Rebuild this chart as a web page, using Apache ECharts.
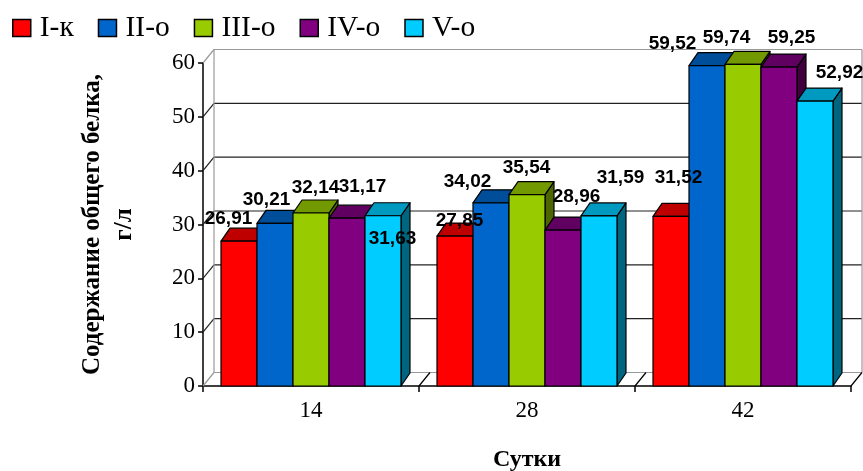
<!DOCTYPE html>
<html>
<head>
<meta charset="utf-8">
<script src="https://cdn.jsdelivr.net/npm/echarts@6/dist/echarts.min.js"></script>
<style>
  html, body { margin: 0; padding: 0; background: #fff; }
  #chart { width: 863px; height: 471px; }
</style>
</head>
<body>
<div id="chart"></div>
<script>
// Total protein by day, per group
const days = ['14', '28', '42'];
const groupNames = ['I-к', 'II-о', 'III-о', 'IV-о', 'V-о'];
const valsI = [26.91, 27.85, 31.52];
const valsII = [30.21, 34.02, 59.52];
const valsIII = [32.14, 35.54, 59.74];
const valsIV = [31.17, 28.96, 59.25];
const valsV = [31.63, 31.59, 52.92];
const yTicks = [0, 10, 20, 30, 40, 50, 60];

const groupValues = [valsI, valsII, valsIII, valsIV, valsV];

// Face colours: front, top, side
const frontColors = ['#FF0000', '#0066CC', '#99CC00', '#800080', '#00CCFF'];
const topColors = ['#BF0000', '#004D99', '#739900', '#600060', '#0099BF'];
const sideColors = ['#800000', '#003366', '#4D6600', '#400040', '#006680'];

// Value label nudges in pixels, relative to the back edge of each bar top
const labelShift = [
  [[-15, -9], [0, -2], [3, -26]],
  [[-13, -11], [-28, -8], [-39, -9]],
  [[0, -12], [-5, -14], [-21, -14]],
  [[11, -18], [9, -20], [8, -16]],
  [[5, 36], [17, -25], [20, -15]]
];

// Oblique depth of bars and walls
const BAR_DX = 9, BAR_DY = 13;
const WALL_DX = 11, WALL_DY = 13.5;

const serif = 'Liberation Serif, Times New Roman, serif';
const sans = 'Liberation Sans, Arial, sans-serif';

function barRenderer(sIdx) {
  return function (params, api) {
    const cat = api.value(0);
    const top = api.coord([cat, api.value(1)]);
    const base = api.coord([cat, 0]);
    const band = api.size([1, 0])[0];
    const w = band / 6;
    const x0 = top[0] + (sIdx - 2.5) * w;
    const x1 = x0 + w;
    const yT = top[1], yB = base[1];
    const stroke = { stroke: '#000', lineWidth: 1.2, lineJoin: 'round' };
    return {
      type: 'group',
      children: [
        {
          type: 'polygon',
          shape: { points: [[x1, yT], [x1 + BAR_DX, yT - BAR_DY], [x1 + BAR_DX, yB - BAR_DY], [x1, yB]] },
          style: Object.assign({ fill: sideColors[sIdx] }, stroke)
        },
        {
          type: 'polygon',
          shape: { points: [[x0, yT], [x1, yT], [x1 + BAR_DX, yT - BAR_DY], [x0 + BAR_DX, yT - BAR_DY]] },
          style: Object.assign({ fill: topColors[sIdx] }, stroke)
        },
        {
          type: 'rect',
          shape: { x: x0, y: yT, width: w, height: yB - yT },
          style: Object.assign({ fill: frontColors[sIdx] }, stroke)
        }
      ]
    };
  };
}

function wallRenderer(params, api) {
  const band = api.size([1, 0])[0];
  const xL = api.coord([0, 0])[0] - band / 2;
  const xR = api.coord([days.length - 1, 0])[0] + band / 2;
  const y0 = api.coord([0, 0])[1];
  const yMax = api.coord([0, yTicks[yTicks.length - 1]])[1];
  const gray = '#999';
  const dark = '#222';
  const children = [];
  const line = (x1, y1, x2, y2, color) => children.push({
    type: 'line',
    shape: { x1, y1, x2, y2 },
    style: { stroke: color, lineWidth: 1.2 }
  });
  yTicks.forEach((v, i) => {
    const y = api.coord([0, v])[1];
    const edge = i === 0 || i === yTicks.length - 1;
    const c = edge ? gray : dark;
    line(xL, y, xL + WALL_DX, y - WALL_DY, c);
    line(xL + WALL_DX, y - WALL_DY, xR + WALL_DX, y - WALL_DY, c);
  });
  // back wall vertical edges
  line(xL + WALL_DX, y0 - WALL_DY, xL + WALL_DX, yMax - WALL_DY, gray);
  line(xR + WALL_DX, y0 - WALL_DY, xR + WALL_DX, yMax - WALL_DY, gray);
  // floor lines at category boundaries
  for (let i = 1; i <= days.length; i++) {
    const xb = xL + band * i;
    line(xb, y0, xb + WALL_DX, y0 - WALL_DY, '#000');
  }
  return { type: 'group', children };
}

function labelRenderer(params, api) {
  const sIdx = api.value(0);
  const cat = api.value(1);
  const val = api.value(2);
  const top = api.coord([cat, val]);
  const band = api.size([1, 0])[0];
  const w = band / 6;
  const cx = top[0] + (sIdx - 2.5) * w + w / 2 + BAR_DX / 2;
  const cy = top[1] - BAR_DY;
  const sh = labelShift[sIdx][cat];
  return {
    type: 'text',
    style: {
      x: cx + sh[0],
      y: cy + sh[1],
      text: val.toFixed(2).replace('.', ','),
      align: 'center',
      verticalAlign: 'middle',
      fontFamily: sans,
      fontWeight: 'bold',
      fontSize: 19,
      fill: '#000'
    }
  };
}

const labelData = [];
groupValues.forEach((arr, s) => arr.forEach((v, c) => labelData.push([s, c, v])));

const series = [
  {
    type: 'custom',
    name: 'walls',
    z: 1,
    clip: false,
    silent: true,
    data: [[0, 0]],
    renderItem: wallRenderer
  }
];
groupNames.forEach((name, s) => {
  series.push({
    type: 'custom',
    name,
    z: 2,
    clip: false,
    itemStyle: { color: frontColors[s] },
    encode: { x: 0, y: 1 },
    data: groupValues[s].map((v, c) => [c, v]),
    renderItem: barRenderer(s)
  });
});
series.push({
  type: 'custom',
  name: 'labels',
  z: 5,
  clip: false,
  silent: true,
  data: labelData,
  encode: { x: 1, y: 2 },
  renderItem: labelRenderer
});

const chart = echarts.init(document.getElementById('chart'), null, { renderer: 'canvas' });
chart.setOption({
  animation: false,
  backgroundColor: '#fff',
  legend: {
    data: groupNames,
    left: 12,
    top: 13,
    padding: 0,
    itemGap: 24,
    itemWidth: 18,
    itemHeight: 17,
    icon: 'rect',
    itemStyle: { borderColor: '#000', borderWidth: 1.5 },
    textStyle: { fontFamily: serif, fontSize: 29.5, color: '#000', padding: [0, 0, 0, 4] }
  },
  grid: {
    left: 203, right: 12, top: 63, bottom: 85,
    containLabel: false,
    outerBoundsMode: 'none'
  },
  xAxis: {
    type: 'category',
    data: days,
    boundaryGap: true,
    name: 'Сутки',
    nameLocation: 'middle',
    nameGap: 62,
    nameTextStyle: { fontFamily: serif, fontSize: 24, fontWeight: 'bold', color: '#000' },
    axisLine: { lineStyle: { color: '#000', width: 1.5 } },
    axisTick: { show: true, length: 6, lineStyle: { color: '#000', width: 1.5 } },
    axisLabel: { fontFamily: serif, fontSize: 23, color: '#000', margin: 13 },
    splitLine: { show: false }
  },
  yAxis: {
    type: 'value',
    min: 0,
    max: 60,
    interval: 10,
    name: 'Содержание общего белка,\nг/л',
    nameLocation: 'middle',
    nameRotate: 90,
    nameGap: 94,
    nameTextStyle: {
      fontFamily: serif, fontSize: 25, fontWeight: 'bold', color: '#000',
      lineHeight: 32, align: 'center', verticalAlign: 'middle'
    },
    axisLine: { show: true, lineStyle: { color: '#000', width: 1.5 } },
    axisTick: { show: true, length: 5, lineStyle: { color: '#000', width: 1.5 } },
    axisLabel: { fontFamily: serif, fontSize: 23, color: '#000', margin: 8 },
    splitLine: { show: false }
  },
  series
});
</script>
</body>
</html>
